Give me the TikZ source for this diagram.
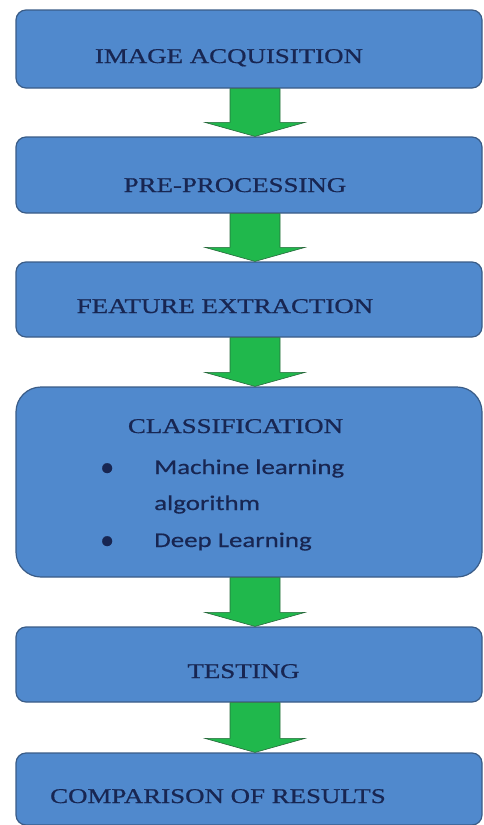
\documentclass[tikz,border=0pt]{standalone}
\usepackage{fontspec}
\setmainfont{Liberation Serif}
\newfontfamily\capfont{Liberation Serif}[FakeBold=0.7]
\newfontfamily\bodyfont{Carlito}[FakeBold=0.5]
\usetikzlibrary{calc}
\definecolor{boxfill}{RGB}{80,137,205}
\definecolor{boxline}{RGB}{58,92,135}
\definecolor{txt}{RGB}{24,38,82}
\definecolor{arrfill}{RGB}{32,184,76}
\definecolor{arrline}{RGB}{40,105,60}
\tikzset{
  stepbox/.style={draw=boxline, line width=1.2pt, fill=boxfill, rounded corners=10pt, minimum width=466pt, inner sep=0pt},
  captext/.style={font=\capfont\fontsize{21}{21}\selectfont, text=txt, anchor=base, inner sep=0pt, xscale=1.28, transform shape},
  bodytext/.style={font=\bodyfont\fontsize{21}{21}\selectfont, text=txt, anchor=base west, inner sep=0pt, xscale=1.28, transform shape},
  bullet/.style={font=\bodyfont\fontsize{28}{28}\selectfont, text=txt, anchor=base west, inner sep=0pt},
  bigarrow/.style={draw=arrline, line width=0.6pt, fill=arrfill}
}
\newcommand{\greenarrow}[2]{%
  \path[bigarrow] let \p1=($(#1.south)+(6pt,0)$), \p2=($(#2.north)+(6pt,0)$) in
    (\x1-25pt,\y1) -- (\x1+25pt,\y1) -- (\x1+25pt,\y2+14pt) -- (\x1+50pt,\y2+14pt)
    -- (\x1,\y2) -- (\x1-50pt,\y2+14pt) -- (\x1-25pt,\y2+14pt) -- cycle;}
\begin{document}
\begin{tikzpicture}[x=1pt,y=-1pt]
\useasboundingbox (0,0) rectangle (484,825);
% boxes
\node[stepbox, minimum height=78pt] (b1) at (249,49) {};
\node[stepbox, minimum height=76pt] (b2) at (249,175) {};
\node[stepbox, minimum height=75pt] (b3) at (249,299.5) {};
\node[stepbox, minimum height=190pt, rounded corners=25pt] (b4) at (249,482) {};
\node[stepbox, minimum height=75pt] (b5) at (249,664.5) {};
\node[stepbox, minimum height=72pt] (b6) at (249,789) {};
% arrows
\greenarrow{b1}{b2}
\greenarrow{b2}{b3}
\greenarrow{b3}{b4}
\greenarrow{b4}{b5}
\greenarrow{b5}{b6}
% texts
\node[captext] (t1) at (229,63) {IMAGE ACQUISITION};
\node[captext] (t2) at (235,192) {PRE-PROCESSING};
\node[captext] (t3) at (225,313) {FEATURE EXTRACTION};
\node[captext] (t4) at (235.5,433) {CLASSIFICATION};
\node[bullet] (u1) at (100,476) {•};
\node[bodytext] (l1) at (154,474) {Machine learning};
\node[bodytext] (l2) at (154,510) {algorithm};
\node[bullet] (u2) at (100,549) {•};
\node[bodytext] (l3) at (154,547) {Deep Learning};
\node[captext] (t5) at (243.5,678) {TESTING};
\node[captext] (t6) at (218,803) {COMPARISON OF RESULTS};
\end{tikzpicture}
\end{document}
